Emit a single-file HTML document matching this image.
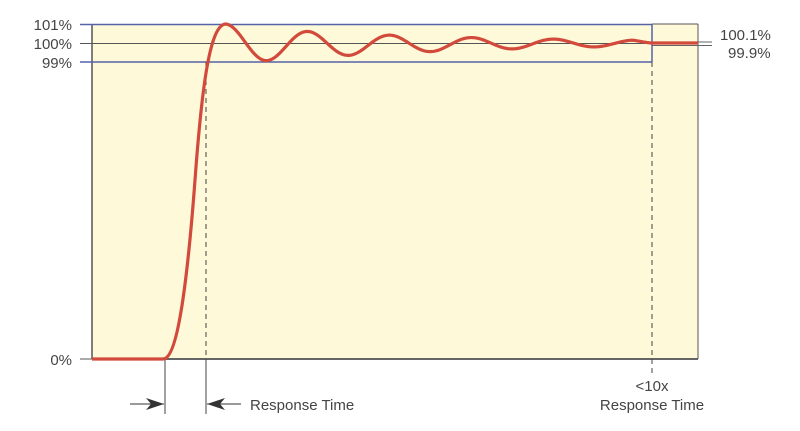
<!DOCTYPE html>
<html><head><meta charset="utf-8"><style>
html,body{margin:0;padding:0;background:#fff;}
svg{display:block;font-family:"Liberation Sans",sans-serif;}
</style></head><body>
<svg id="s" width="800" height="431" viewBox="0 0 800 431">
<rect x="92" y="24" width="606" height="335" fill="#fef9d8"/>
<line x1="92" y1="24" x2="92" y2="359" stroke="#555" stroke-width="1.5"/>
<line x1="92" y1="359" x2="698" y2="359" stroke="#666" stroke-width="2"/>
<line x1="698" y1="24" x2="698" y2="359" stroke="#555" stroke-width="1"/>
<line x1="652" y1="24" x2="698" y2="24" stroke="#555" stroke-width="1"/>
<line x1="80" y1="24.5" x2="652" y2="24.5" stroke="#5563a8" stroke-width="1.5"/>
<line x1="80" y1="62" x2="652" y2="62" stroke="#5563a8" stroke-width="1.5"/>
<line x1="652" y1="24" x2="652" y2="62" stroke="#5563a8" stroke-width="1.5"/>
<line x1="80" y1="43.5" x2="652" y2="43.5" stroke="#555" stroke-width="1"/>
<line x1="80" y1="359" x2="92" y2="359" stroke="#555" stroke-width="1"/>
<line x1="652" y1="42" x2="712" y2="42" stroke="#666" stroke-width="1"/>
<line x1="652" y1="45.5" x2="712" y2="45.5" stroke="#666" stroke-width="1"/>
<line x1="652" y1="42" x2="698" y2="42" stroke="#5563a8" stroke-width="1"/>
<line x1="206" y1="62" x2="206" y2="359" stroke="#444" stroke-width="1" stroke-dasharray="5,4"/>
<line x1="652" y1="62" x2="652" y2="374" stroke="#444" stroke-width="1" stroke-dasharray="5,4"/>
<line x1="165" y1="359" x2="165" y2="414" stroke="#444" stroke-width="1"/>
<line x1="206" y1="359" x2="206" y2="414" stroke="#444" stroke-width="1"/>
<line x1="130" y1="404" x2="164" y2="404" stroke="#333" stroke-width="1"/>
<polygon points="164,404 146,398 151,404 146,410" fill="#333"/>
<line x1="207" y1="404" x2="241" y2="404" stroke="#333" stroke-width="1"/>
<polygon points="207,404 225,398 220,404 225,410" fill="#333"/>
<path id="c" d="" fill="none" stroke="#d24a3c" stroke-width="3.2" stroke-linejoin="round"/>
<g fill="#444" font-size="15">
<text x="72" y="30" text-anchor="end">101%</text>
<text x="72" y="49" text-anchor="end">100%</text>
<text x="72" y="68" text-anchor="end">99%</text>
<text x="72" y="365" text-anchor="end">0%</text>
<text x="720" y="40">100.1%</text>
<text x="728" y="58">99.9%</text>
<text x="250" y="410">Response Time</text>
<text x="652" y="391" text-anchor="middle">&lt;10x</text>
<text x="652" y="410" text-anchor="middle">Response Time</text>
</g>
</svg>
<script>
var d="M92,359 H163 C176,359 186,300 195,180 C202,85 210,24 226,24";
for(var x=227;x<=652;x++){
 var a=19*Math.exp(-0.0045*(x-226));
 var c=43+2*Math.min(1,(x-226)/40)*(1-(x-226)/426);
 var y=c-a*Math.cos(2*Math.PI*(x-226)/82);
 if(x>632){var t=(x-632)/20;y=y*(1-t)+43*t;}
 d+=" L"+x+","+y.toFixed(2);
}
d+=" L698,43";
document.getElementById("c").setAttribute("d",d);
</script>
</body></html>
